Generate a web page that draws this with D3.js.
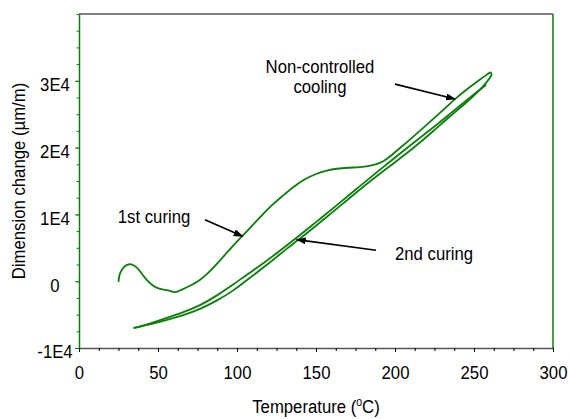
<!DOCTYPE html>
<html>
<head>
<meta charset="utf-8">
<script src="https://cdn.jsdelivr.net/npm/d3@7"></script>
<style>
  body { margin: 0; background: #fff; }
  svg { display: block; font-family: "Liberation Sans", Arial, sans-serif; }
</style>
</head>
<body>
<div id="chart"></div>
<script>
// temperature (oC), dimension change (um/m)
const firstCuring = [
  [25,-100],[25.5,1100],[28,2100],[30.5,2500],[33,2600],[36.5,2150],[39.7,1150],[42.8,150],
  [47,-750],[51.3,-1190],[55.5,-1340],[58.7,-1490],[60.8,-1750],[63.9,-1400],[70.3,-700],
  [76.6,150],[82,1250],[88,2750],[94,4400],[101,6200],[108,7900],[115,9700],[122,11400],
  [129,12800],[136,14200],[143,15300],[150,16100],[157,16600],[163,16850],[170,17000],
  [178,17060],[184,17250],[188,17500],[193,17950],[197,18700],[203,19900],[210,21300],
  [220,23400],[230,25500],[238,27300],[246,28850],[253.8,30200],[258,30900],[260.5,31300]
];
const cooling = [
  [260.5,31300],[261.4,31000],[260.6,30600],[258,29800],[253.8,28600],[245,26700],
  [234.8,24700],[224,22400],[211.6,19900],[200,17800],[185,15150],[166.8,11550],
  [150,8300],[137.8,6000],[133.5,5250],[118,2250],[108,500],[97.7,-1450],[87,-2950],
  [76.6,-4200],[66,-5100],[55,-5850],[45,-6450],[37,-6900],[34.5,-7000]
];
const secondCuring = [
  [34.5,-7000],[36,-6950],[45,-6350],[55.5,-5500],[66,-4650],[76.6,-3650],[87,-2200],
  [97.7,-500],[106,950],[114.6,2300],[126,4350],[137.8,6500],[150,8850],[161,10950],
  [175,13700],[190,16600],[200,18500],[211.6,20700],[224.2,23000],[235,25100],
  [245.4,27100],[252,28350],[257.6,29400]
];

const xTicks = [0, 50, 100, 150, 200, 250, 300];
const yTicks = [-10000, 0, 10000, 20000, 30000];
const yTickLabels = ["-1E4", "0", "1E4", "2E4", "3E4"];

// annotations, in data units
const noteLabels = ["Non-controlled", "cooling", "1st curing", "2nd curing"];
const notePos = [[152.5,31190],[152.5,28210],[47.5,8660],[224.7,3130]];
const arrowFrom = [[200,29500],[79.7,9210],[188,4630]];
const arrowTo = [[238,27270],[103.6,6720],[137.8,6220]];

const width = 570, height = 419;
const margin = {top: 14, right: 17, bottom: 71, left: 79};
const green = "#0a7f0a";
const squeeze = 0.88;

const svg = d3.select("#chart").append("svg")
  .attr("width", width).attr("height", height);

const x = d3.scaleLinear().domain([0, 300]).range([margin.left, width - margin.right]);
const y = d3.scaleLinear().domain([-10000, 40000]).range([height - margin.bottom, margin.top]);

svg.append("defs").append("marker")
  .attr("id", "head")
  .attr("markerUnits", "userSpaceOnUse")
  .attr("markerWidth", 10).attr("markerHeight", 7)
  .attr("refX", 9).attr("refY", 3.5)
  .attr("orient", "auto")
  .append("path").attr("d", "M0,0 L10,3.5 L0,7 Z").attr("fill", "#000");

// frame: top black, right green
svg.append("line")
  .attr("x1", x(0)).attr("x2", x(300)).attr("y1", y(40000)).attr("y2", y(40000))
  .attr("stroke", "#000").attr("stroke-width", 1.2);
svg.append("line")
  .attr("x1", x(300)).attr("x2", x(300)).attr("y1", y(40000)).attr("y2", y(-10000))
  .attr("stroke", green).attr("stroke-width", 1.5);

// x axis
const xMinor = svg.append("g")
  .attr("transform", `translate(0,${y(-10000)})`)
  .call(d3.axisBottom(x).tickValues(d3.range(0, 300.1, 12.5)).tickSize(3).tickFormat("").tickSizeOuter(0));
xMinor.select(".domain").attr("stroke", "#555").attr("stroke-width", 1.5);
xMinor.selectAll(".tick line").attr("stroke", "#000");

const xAxis = svg.append("g")
  .attr("transform", `translate(0,${y(-10000)})`)
  .call(d3.axisBottom(x).tickValues(xTicks).tickSize(4).tickSizeOuter(0));
xAxis.select(".domain").remove();
xAxis.selectAll(".tick line").attr("stroke", "#000");
xAxis.selectAll(".tick text")
  .attr("class", "sq")
  .attr("y", 18).attr("font-size", 19).attr("fill", "#000")
  .attr("font-family", "Liberation Sans, Arial, sans-serif");

// y axis
const yMinor = svg.append("g")
  .attr("transform", `translate(${x(0)},0)`)
  .call(d3.axisLeft(y).tickValues(d3.range(-10000, 40001, 2500)).tickSize(2.5).tickFormat("").tickSizeOuter(0));
yMinor.select(".domain").attr("stroke", green).attr("stroke-width", 1.5);
yMinor.selectAll(".tick line").attr("stroke", green);

const yAxis = svg.append("g")
  .attr("transform", `translate(${x(0)},0)`)
  .call(d3.axisLeft(y).tickValues(yTicks).tickSize(4)
    .tickFormat((d, i) => yTickLabels[i]).tickSizeOuter(0));
yAxis.select(".domain").remove();
yAxis.selectAll(".tick line").attr("stroke", green);
yAxis.selectAll(".tick text")
  .attr("class", "sq")
  .attr("x", -24).attr("dy", "0.52em").attr("text-anchor", "middle")
  .attr("font-size", 19).attr("fill", "#000")
  .attr("font-family", "Liberation Sans, Arial, sans-serif");

// axis titles (x title squeezed by transform, it has a superscript)
const xTitle = svg.append("text")
  .attr("transform", `translate(${x(150)},413) scale(${squeeze},1)`)
  .attr("text-anchor", "middle").attr("font-size", 19);
xTitle.append("tspan").text("Temperature (");
xTitle.append("tspan").attr("font-size", 12).attr("baseline-shift", "7px").text("o");
xTitle.append("tspan").text("C)");

svg.append("text")
  .attr("class", "sq")
  .attr("transform", `translate(25,${(y(40000) + y(-10000)) / 2}) rotate(-90)`)
  .attr("text-anchor", "middle").attr("font-size", 19)
  .text("Dimension change (\u00b5m/m)");

// curves
const line = d3.line()
  .x(d => x(d[0])).y(d => y(d[1]))
  .curve(d3.curveBasis);

[firstCuring, cooling, secondCuring].forEach(series => {
  svg.append("path")
    .datum(series)
    .attr("d", line)
    .attr("fill", "none")
    .attr("stroke", green)
    .attr("stroke-width", 1.8)
    .attr("stroke-linejoin", "round");
});

// arrows
arrowFrom.forEach((p, i) => {
  svg.append("line")
    .attr("x1", x(p[0])).attr("y1", y(p[1]))
    .attr("x2", x(arrowTo[i][0])).attr("y2", y(arrowTo[i][1]))
    .attr("stroke", "#000").attr("stroke-width", 1.6)
    .attr("marker-end", "url(#head)");
});

// notes
noteLabels.forEach((t, i) => {
  svg.append("text")
    .attr("class", "sq")
    .attr("x", x(notePos[i][0])).attr("y", y(notePos[i][1]))
    .attr("text-anchor", "middle").attr("font-size", 19)
    .text(t);
});

// narrow type like the original
svg.selectAll("text.sq").each(function () {
  const w = this.getComputedTextLength();
  this.setAttribute("textLength", (w * squeeze).toFixed(1));
  this.setAttribute("lengthAdjust", "spacingAndGlyphs");
});
</script>
</body>
</html>
